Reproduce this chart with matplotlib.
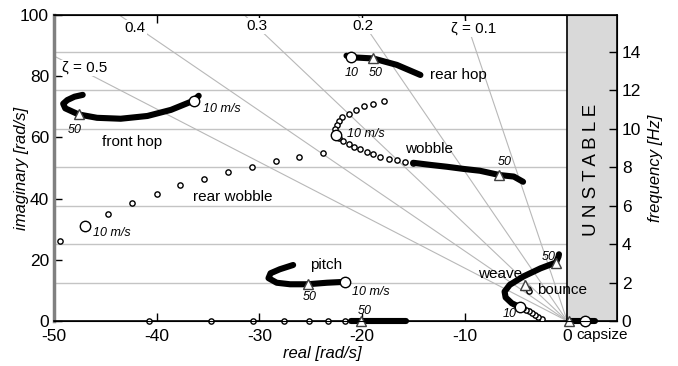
import numpy as np
import matplotlib
matplotlib.use("Agg")
import matplotlib.pyplot as plt

plt.rcParams["font.family"] = ["Liberation Sans", "DejaVu Sans"]
plt.rcParams["axes.unicode_minus"] = False

# --- root locus data (real, imag in rad/s) ---
front_hop_re = [-35.9, -36.4, -38.6, -40.9, -43.5, -45.8, -47.6, -48.9, -49.1, -48.7, -48.0, -47.2]
front_hop_im = [73.6, 72.0, 69.0, 67.0, 66.1, 66.4, 67.5, 69.5, 71.0, 72.2, 73.3, 73.9]

rear_hop_re = [-21.5, -21.1, -20.0, -18.9, -16.6, -14.3]
rear_hop_im = [86.7, 86.2, 86.0, 85.8, 83.7, 80.4]

wobble_low_re = [-17.8, -18.9, -19.8, -20.6, -21.3, -21.9, -22.2, -22.4, -22.6]
wobble_low_im = [72.0, 70.9, 70.3, 69.0, 67.6, 66.6, 65.4, 64.1, 62.6]
wobble_mid_re = [-22.5, -22.2, -21.8, -21.3, -20.8, -20.2, -19.5, -18.9, -18.2, -17.4, -16.6, -15.8, -15.0]
wobble_mid_im = [60.8, 59.8, 58.8, 57.9, 57.0, 56.1, 55.3, 54.5, 53.7, 53.1, 52.6, 52.1, 51.7]
wobble_re = [-15.0, -13.3, -11.7, -10.1, -8.5, -6.6, -5.2, -4.3]
wobble_im = [51.7, 51.0, 50.4, 49.7, 49.1, 47.7, 47.2, 45.5]

rear_wobble_re = [-49.4, -44.7, -42.4, -40.0, -37.7, -35.4, -33.0, -30.7, -28.4, -26.1, -23.8]
rear_wobble_im = [26.1, 35.1, 38.7, 41.6, 44.3, 46.5, 48.7, 50.4, 52.2, 53.7, 55.0]

pitch_re = [-21.6, -23.4, -25.3, -27.0, -28.3, -29.1, -28.9, -28.0, -26.7]
pitch_im = [12.8, 12.5, 12.0, 12.0, 12.5, 14.0, 15.6, 16.9, 18.3]

weave_low_re = [-2.5, -2.8, -3.1, -3.4, -3.7, -4.0, -4.3, -4.6]
weave_low_im = [0.65, 1.4, 2.1, 2.7, 3.2, 3.7, 4.1, 4.5]
weave_re = [-4.6, -5.4, -6.0, -6.1, -5.6, -4.3, -2.6, -1.1, -0.85, -0.8]
weave_im = [4.5, 5.8, 7.7, 9.6, 11.8, 14.5, 17.2, 19.1, 21.0, 21.8]

bounce_re = [-3.8, -3.7]
bounce_im = [10.5, 9.9]

real_sparse = [-40.7, -34.7, -30.6, -27.6, -25.2, -23.3, -21.6]
real_dense = [-21.1, -15.7]
capsize_re = [0.2, 2.7]

# 10 m/s (circles) and 50 m/s (triangles) markers
ten_re = [-36.4, -21.1, -22.5, -47.0, -21.6, -4.6, 1.75]
ten_im = [72.0, 86.2, 60.8, 31.0, 12.8, 4.5, 0.0]
fifty_re = [-47.6, -18.9, -6.6, -25.3, -20.1, -1.1, -4.1, 0.2]
fifty_im = [67.5, 85.8, 47.7, 12.0, 0.0, 19.1, 11.6, 0.0]

zetas = [0.1, 0.2, 0.3, 0.4, 0.5]
zeta_labels = ["ζ = 0.1", "0.2", "0.3", "0.4", "ζ = 0.5"]
zeta_label_pos = [(-9.1, 95.4), (-19.9, 96.4), (-30.2, 96.4), (-42.1, 95.6), (-47.0, 82.7)]

hz_ticks = [0, 2, 4, 6, 8, 10, 12, 14]

fig = plt.figure(figsize=(6.78, 3.66), dpi=100)
ax = fig.add_axes([0.0796, 0.123, 0.8304, 0.836])
ax.set_xlim(-50, 4.85)
ax.set_ylim(0, 100)

# horizontal grid at the Hz ticks
for hz in hz_ticks[1:]:
    ax.axhline(hz * 2 * np.pi, color="#c4c4c4", lw=1.0, zorder=0)

# constant damping lines from the origin
for z in zetas:
    slope = np.sqrt(1 - z ** 2) / z
    x_end = max(-50, -100 / slope)
    ax.plot([0, x_end], [0, -x_end * slope], color="#b8b8b8", lw=0.8, zorder=1)
for lab, (x, y) in zip(zeta_labels, zeta_label_pos):
    ax.text(x, y, lab, ha="center", va="center", fontsize=11, zorder=4,
            bbox=dict(facecolor="white", edgecolor="none", pad=1.0))

# unstable region
ax.axvspan(0, 4.85, color="#d9d9d9", zorder=2)
ax.axvline(0, color="black", lw=1.2, zorder=2.5)
ax.text(2.4, 49.5, "U N S T A B L E", rotation=90, ha="center", va="center",
        fontsize=13.5, zorder=3)

thick = dict(color="black", lw=4.4, solid_capstyle="round", zorder=5)
small = dict(ls="none", marker="o", ms=3.8, mfc="white", mec="black", mew=1.0, zorder=5)

ax.plot(front_hop_re, front_hop_im, **thick)
ax.plot(rear_hop_re, rear_hop_im, **thick)
ax.plot(wobble_low_re, wobble_low_im, **small)
ax.plot(wobble_mid_re, wobble_mid_im, **small)
ax.plot(wobble_re, wobble_im, **thick)
ax.plot(rear_wobble_re, rear_wobble_im, **small)
ax.plot(pitch_re, pitch_im, **thick)
ax.plot(weave_low_re, weave_low_im, **small)
ax.plot(weave_re, weave_im, **thick)
ax.plot(bounce_re, bounce_im, **small)
ax.plot(real_sparse, [0] * len(real_sparse), clip_on=False, **small)
ax.plot(real_dense, [0, 0], clip_on=False, **thick)
ax.plot(capsize_re, [0, 0], clip_on=False, **thick)

ax.plot(ten_re, ten_im, ls="none", marker="o", ms=7.5, mfc="white", mec="black",
        mew=1.0, zorder=6, clip_on=False)
ax.plot(fifty_re, fifty_im, ls="none", marker="^", ms=7, mfc="white", mec="#404040",
        mew=1.0, zorder=6, clip_on=False)

# mode names and speed labels
names = [("front hop", -42.4, 58.6, "center"), ("rear hop", -13.4, 80.4, "left"),
         ("wobble", -13.5, 56.2, "center"), ("rear wobble", -32.6, 40.6, "center"),
         ("pitch", -23.5, 18.3, "center"), ("weave", -6.5, 15.3, "center"),
         ("bounce", -2.9, 10.1, "left")]
for txt, x, y, ha in names:
    ax.text(x, y, txt, ha=ha, va="center", fontsize=11, zorder=7)
ax.text(0.9, -4.6, "capsize", ha="left", va="center", fontsize=11, clip_on=False)

speeds = [("10 m/s", -35.5, 69.3, "left"), ("10", -21.0, 81.2, "center"),
          ("50", -18.7, 81.0, "center"), ("50", -48.0, 62.4, "center"),
          ("10 m/s", -21.5, 61.0, "left"), ("50", -6.1, 51.9, "center"),
          ("10 m/s", -46.2, 28.6, "left"), ("50", -25.1, 8.0, "center"),
          ("10 m/s", -21.0, 9.6, "left"), ("50", -19.7, 3.4, "center"),
          ("50", -1.8, 21.0, "center"), ("10", -5.6, 2.2, "center")]
for txt, x, y, ha in speeds:
    ax.text(x, y, txt, ha=ha, va="center", fontsize=9, style="italic", zorder=7)

# axes and ticks
ax.set_xticks([-50, -40, -30, -20, -10, 0])
ax.set_yticks([0, 20, 40, 60, 80, 100])
ax.tick_params(direction="in", top=True, right=False, labelsize=12.5, length=6, width=1)
ax.tick_params(axis="x", pad=6)
for side in ["top", "bottom", "right"]:
    ax.spines[side].set_linewidth(1.2)
ax.spines["left"].set_color("#808080")
ax.spines["left"].set_linewidth(2.5)
ax.text(0.476, -0.105, "real [rad/s]", transform=ax.transAxes, ha="center",
        va="center", fontsize=12, style="italic")
ax.text(-0.058, 0.5, "imaginary [rad/s]", transform=ax.transAxes, ha="center",
        va="center", fontsize=12, style="italic", rotation=90)

ax2 = ax.twinx()
ax2.set_ylim(0, 100 / (2 * np.pi))
ax2.set_yticks(hz_ticks)
ax2.tick_params(direction="in", labelsize=12.5, length=6, width=1)
ax2.spines["left"].set_visible(False)
ax2.text(1.068, 0.5, "frequency [Hz]", transform=ax2.transAxes, ha="center",
         va="center", fontsize=12, style="italic", rotation=90)

fig.savefig("out.png", dpi=100)
